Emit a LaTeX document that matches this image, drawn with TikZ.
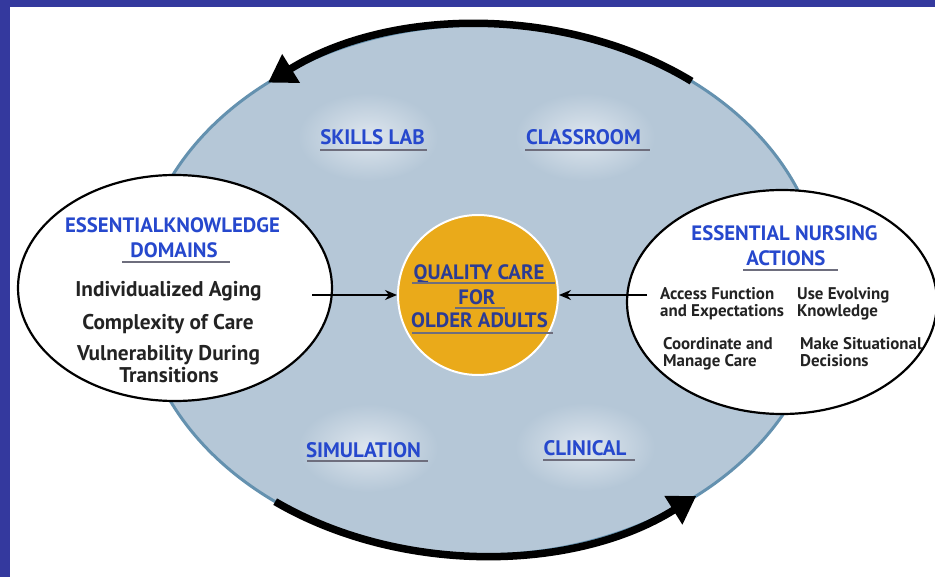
\documentclass[tikz,border=0pt]{standalone}
\usepackage{fontspec}
\setmainfont{PT Sans}
\usetikzlibrary{arrows.meta,shapes.geometric}
\definecolor{frameblue}{RGB}{52,57,158}
\definecolor{bigfill}{RGB}{181,199,215}
\definecolor{bigedge}{RGB}{100,145,175}
\definecolor{glow}{RGB}{222,230,238}
\definecolor{qcfill}{RGB}{234,170,26}
\definecolor{qctext}{RGB}{44,60,148}
\definecolor{headblue}{RGB}{38,72,205}
\definecolor{bodytext}{RGB}{35,35,35}
\definecolor{ulgray}{RGB}{110,110,125}
\tikzset{
  headtxt/.style={anchor=base,inner sep=0,text=headblue,font=\fontsize{20.8}{20.8}\selectfont\bfseries},
  bodytxt/.style={anchor=base,inner sep=0,text=bodytext,font=\fontsize{21.3}{21.3}\selectfont\bfseries},
  smalltxt/.style={anchor=base west,inner sep=0,text=bodytext,font=\fontsize{16.9}{16.9}\selectfont\bfseries},
  qctxt/.style={anchor=base,inner sep=0,text=qctext,font=\fontsize{20.8}{20.8}\selectfont\bfseries},
  placetxt/.style={anchor=base,inner sep=0,text=headblue,font=\fontsize{21}{21}\selectfont\bfseries},
  ul/.style={draw=ulgray,line width=1.2pt},
  cyclearrow/.style={line width=7.5pt,-{Triangle[length=27pt,width=32pt]}},
  feedarrow/.style={line width=1.6pt,-{Stealth[length=12pt,width=10pt]}},
  whiteoval/.style={draw=black,line width=2.2pt,fill=white,ellipse,inner sep=0},
}
\begin{document}
\begin{tikzpicture}[x=1pt,y=-1pt]
\useasboundingbox (0,0) rectangle (935,577);
\fill[white] (0,0) rectangle (935,577);
\fill[frameblue] (0,0) rectangle (935,7);
\fill[frameblue] (0,0) rectangle (10,577);

% big cycle ellipse
\node[ellipse,draw=bigedge,fill=bigfill,line width=3pt,inner sep=0,
      minimum width=684pt,minimum height=530pt] (cyc) at (481,290) {};

% glows
\shade[inner color=glow,outer color=bigfill] (368,137) ellipse [x radius=70pt,y radius=44pt];
\shade[inner color=glow,outer color=bigfill] (585,137) ellipse [x radius=70pt,y radius=44pt];
\shade[inner color=glow,outer color=bigfill] (368,448) ellipse [x radius=70pt,y radius=44pt];
\shade[inner color=glow,outer color=bigfill] (585,447) ellipse [x radius=70pt,y radius=44pt];

% cycle arrows
\draw[cyclearrow] ([shift={(52:342pt and 265pt)}]cyc.center)
  arc[start angle=52,end angle=128.5,x radius=342pt,y radius=265pt];
\draw[cyclearrow] ([shift={(233:342pt and 265pt)}]cyc.center)
  arc[start angle=233,end angle=309,x radius=342pt,y radius=265pt];

% white ovals
\node[whiteoval,minimum width=314pt,minimum height=226pt] (ekd) at (175,288) {};
\node[whiteoval,minimum width=310pt,minimum height=224pt] (ena) at (782,302) {};

% center circle
\node[circle,fill=qcfill,draw=white,line width=2pt,minimum size=160pt,inner sep=0] (qc) at (478,295) {};

% feed arrows
\coordinate (la) at (312,295);
\coordinate (ra) at (647,295);
\draw[feedarrow] (la) -- (qc.west);
\draw[feedarrow] (ra) -- (qc.east);

% center text
\node[qctxt] (q1) at (479,280) {QUALITY CARE};
\node[qctxt] (q2) at (477,305) {FOR};
\node[qctxt] (q3) at (479.5,328) {OLDER ADULTS};
\draw[ul] (412,283) -- (555,283);
\draw[ul] (455,308) -- (505,308);
\draw[ul] (412,333) -- (553,333);

% left oval text
\node[headtxt] (l1) at (172.5,233) {ESSENTIALKNOWLEDGE};
\node[headtxt] (l2) at (174,258) {DOMAINS};
\draw[ul] (122,262) -- (230,262);
\node[bodytxt] (l3) at (168.5,297) {Individualized Aging};
\node[bodytxt] (l4) at (168,330) {Complexity of Care};
\node[bodytxt] (l5) at (168.5,361) {Vulnerability During};
\node[bodytxt] (l6) at (169,382.5) {Transitions};

% right oval text
\node[headtxt] (r1) at (784.5,241) {ESSENTIAL NURSING};
\node[headtxt] (r2) at (786,266) {ACTIONS};
\draw[ul] (743,270) -- (838,270);
\node[smalltxt] (r3) at (660,300) {Access Function};
\node[smalltxt] (r4) at (660,317) {and Expectations};
\node[smalltxt] (r5) at (797,300) {Use Evolving};
\node[smalltxt] (r6) at (797,317) {Knowledge};
\node[smalltxt] (r7) at (663,350) {Coordinate and};
\node[smalltxt] (r8) at (663,367) {Manage Care};
\node[smalltxt] (r9) at (800,350) {Make Situational};
\node[smalltxt] (r10) at (800,367) {Decisions};

% places
\node[placetxt] (p1) at (372.5,145) {SKILLS LAB};
\draw[ul] (320,150) -- (427,150);
\node[placetxt] (p2) at (583.5,145) {CLASSROOM};
\draw[ul] (525,150) -- (650,150);
\node[placetxt] (p3) at (363.5,457) {SIMULATION};
\draw[ul] (307,461) -- (428,461);
\node[placetxt] (p4) at (585,455) {CLINICAL};
\draw[ul] (543,460) -- (635,460);
\end{tikzpicture}
\end{document}
